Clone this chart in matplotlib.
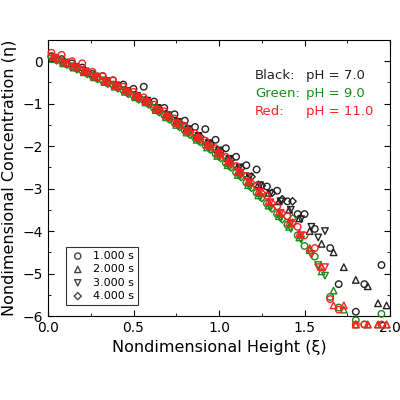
import matplotlib
matplotlib.use("Agg")
import matplotlib.pyplot as plt
from matplotlib.ticker import MultipleLocator

times = ["1.000 s", "2.000 s", "3.000 s", "4.000 s"]
markers = ["o", "^", "v", "D"]
colors = {"Black": "#222222", "Green": "#1a8a1a", "Red": "#ff2020"}

x_1s = [0.02,0.08,0.14,0.20,0.26,0.32,0.38,0.44,0.50,0.56,0.62,0.68,0.74,0.80,0.86,0.92,0.98,1.04,1.10,1.16,1.22,1.28,1.34,1.40,1.46,1.50,1.56,1.65,1.70,1.80,1.85,1.95]
x_2s = [0.03,0.09,0.15,0.21,0.27,0.33,0.39,0.45,0.51,0.57,0.63,0.69,0.75,0.81,0.87,0.93,0.99,1.05,1.11,1.17,1.23,1.29,1.35,1.41,1.47,1.53,1.60,1.67,1.73,1.80,1.87,1.93,1.98]
x_3s = [0.04,0.10,0.16,0.22,0.28,0.34,0.40,0.46,0.52,0.58,0.64,0.70,0.76,0.82,0.88,0.94,1.00,1.06,1.12,1.18,1.24,1.30,1.36,1.42,1.48,1.54,1.58,1.62]
x_4s = [0.05,0.11,0.17,0.23,0.29,0.35,0.41,0.47,0.53,0.59,0.65,0.71,0.77,0.83,0.89,0.95,1.01,1.07,1.13,1.19,1.25,1.31,1.37,1.43]

black_1s = [0.12,0.05,-0.05,-0.15,-0.3,-0.35,-0.45,-0.55,-0.65,-0.6,-0.95,-1.1,-1.25,-1.4,-1.55,-1.6,-1.85,-2.05,-2.25,-2.45,-2.55,-2.95,-3.05,-3.3,-3.6,-3.6,-3.95,-4.4,-5.25,-5.9,-5.25,-4.8]
black_2s = [0.1,-0.02,-0.12,-0.22,-0.35,-0.45,-0.55,-0.67,-0.8,-0.9,-1.08,-1.24,-1.4,-1.58,-1.74,-1.9,-2.08,-2.28,-2.48,-2.7,-2.9,-3.1,-3.3,-3.5,-3.7,-4.0,-4.3,-4.5,-4.85,-5.15,-5.3,-5.7,-5.75]
black_3s = [0.08,-0.03,-0.13,-0.24,-0.36,-0.47,-0.57,-0.7,-0.82,-0.93,-1.1,-1.27,-1.43,-1.6,-1.76,-1.93,-2.1,-2.3,-2.5,-2.72,-2.92,-3.12,-3.3,-3.5,-3.72,-3.9,-4.15,-4.0]
black_4s = [0.06,-0.05,-0.15,-0.26,-0.38,-0.49,-0.6,-0.72,-0.84,-0.96,-1.12,-1.29,-1.45,-1.62,-1.78,-1.95,-2.12,-2.32,-2.52,-2.72,-2.93,-3.1,-3.25,-3.3]

green_1s = [0.1,0.0,-0.12,-0.22,-0.35,-0.45,-0.55,-0.68,-0.8,-0.92,-1.1,-1.27,-1.45,-1.63,-1.8,-1.98,-2.18,-2.4,-2.62,-2.86,-3.1,-3.35,-3.6,-3.85,-4.1,-4.35,-4.6,-5.55,-5.8,-6.1,-6.2,-5.95]
green_2s = [0.05,-0.05,-0.15,-0.26,-0.38,-0.49,-0.6,-0.72,-0.85,-0.97,-1.15,-1.32,-1.5,-1.68,-1.85,-2.03,-2.23,-2.45,-2.68,-2.92,-3.16,-3.4,-3.65,-3.9,-4.15,-4.45,-4.95,-5.4,-5.85,-6.2,-6.2,-6.2,-6.2]
green_3s = [0.04,-0.06,-0.17,-0.28,-0.4,-0.51,-0.62,-0.75,-0.88,-1.0,-1.18,-1.35,-1.53,-1.7,-1.88,-2.06,-2.26,-2.48,-2.7,-2.95,-3.2,-3.45,-3.7,-3.95,-4.2,-4.55,-4.8,-5.05]
green_4s = [0.02,-0.08,-0.19,-0.3,-0.42,-0.53,-0.64,-0.77,-0.9,-1.02,-1.2,-1.37,-1.55,-1.73,-1.9,-2.08,-2.28,-2.5,-2.73,-2.98,-3.22,-3.47,-3.72,-3.7]

red_1s = [0.2,0.15,0.0,-0.05,-0.25,-0.35,-0.45,-0.6,-0.72,-0.85,-1.02,-1.18,-1.35,-1.52,-1.7,-1.87,-2.05,-2.25,-2.47,-2.7,-2.93,-3.17,-3.42,-3.65,-3.9,-4.1,-4.4,-5.6,-5.85,-6.2,-6.2,-6.2]
red_2s = [0.1,-0.02,-0.12,-0.23,-0.36,-0.46,-0.57,-0.69,-0.82,-0.94,-1.12,-1.28,-1.45,-1.63,-1.8,-1.97,-2.16,-2.37,-2.6,-2.83,-3.06,-3.3,-3.55,-3.8,-4.05,-4.4,-4.85,-5.75,-5.75,-6.2,-6.2,-6.2,-6.2]
red_3s = [0.08,-0.04,-0.14,-0.25,-0.37,-0.48,-0.59,-0.71,-0.84,-0.96,-1.14,-1.3,-1.47,-1.65,-1.82,-2.0,-2.18,-2.4,-2.62,-2.85,-3.08,-3.32,-3.57,-3.82,-4.1,-4.55,-4.85,-4.85]
red_4s = [0.05,-0.06,-0.16,-0.27,-0.39,-0.5,-0.61,-0.73,-0.86,-0.98,-1.16,-1.32,-1.5,-1.67,-1.84,-2.02,-2.2,-2.42,-2.64,-2.87,-3.1,-3.34,-3.58,-3.8]

xs = [x_1s, x_2s, x_3s, x_4s]
data = {"Black": [black_1s, black_2s, black_3s, black_4s],
        "Green": [green_1s, green_2s, green_3s, green_4s],
        "Red": [red_1s, red_2s, red_3s, red_4s]}

fig = plt.figure(figsize=(4, 4), dpi=100)
ax = fig.add_axes([0.12, 0.21, 0.855, 0.69])
for name in ["Black", "Green", "Red"]:
    for i in range(4):
        ax.scatter(xs[i], data[name][i], marker=markers[i], s=22 if markers[i] != "D" else 14,
                   facecolors="none", edgecolors=colors[name], linewidths=1.0, zorder=3, clip_on=False)

for i in range(4):
    ax.scatter([], [], marker=markers[i], s=20 if markers[i] != "D" else 13, facecolors="none",
               edgecolors="#444444", linewidths=1.0, label=times[i])
leg = ax.legend(loc="lower left", bbox_to_anchor=(0.035, 0.02), frameon=True, fancybox=False,
                edgecolor="black", fontsize=8, handletextpad=0.6, borderpad=0.35,
                labelspacing=0.3, handlelength=1.5)
leg.get_frame().set_linewidth(0.8)

ax.set_xlim(0, 2.0)
ax.set_ylim(-6, 0.5)
ax.xaxis.set_major_locator(MultipleLocator(0.5))
ax.xaxis.set_minor_locator(MultipleLocator(0.25))
ax.yaxis.set_major_locator(MultipleLocator(1))
ax.yaxis.set_minor_locator(MultipleLocator(0.5))
ax.tick_params(which="both", direction="in", top=True, right=True, labelsize=10)
ax.tick_params(which="major", length=4)
ax.tick_params(which="minor", length=2)
ax.set_xlabel("Nondimensional Height (ξ)", fontsize=11.5)
ax.set_ylabel("Nondimensional Concentration (η)", fontsize=11.5)

for j, (lab, val) in enumerate([("Black:", "pH = 7.0"), ("Green:", "pH = 9.0"), ("Red:", "pH = 11.0")]):
    c = colors[lab[:-1]]
    ax.text(0.605, 0.86 - j * 0.065, lab, transform=ax.transAxes, color=c, fontsize=9.5)
    ax.text(0.755, 0.86 - j * 0.065, val, transform=ax.transAxes, color=c, fontsize=9.5)

fig.savefig("out.png", dpi=100)
